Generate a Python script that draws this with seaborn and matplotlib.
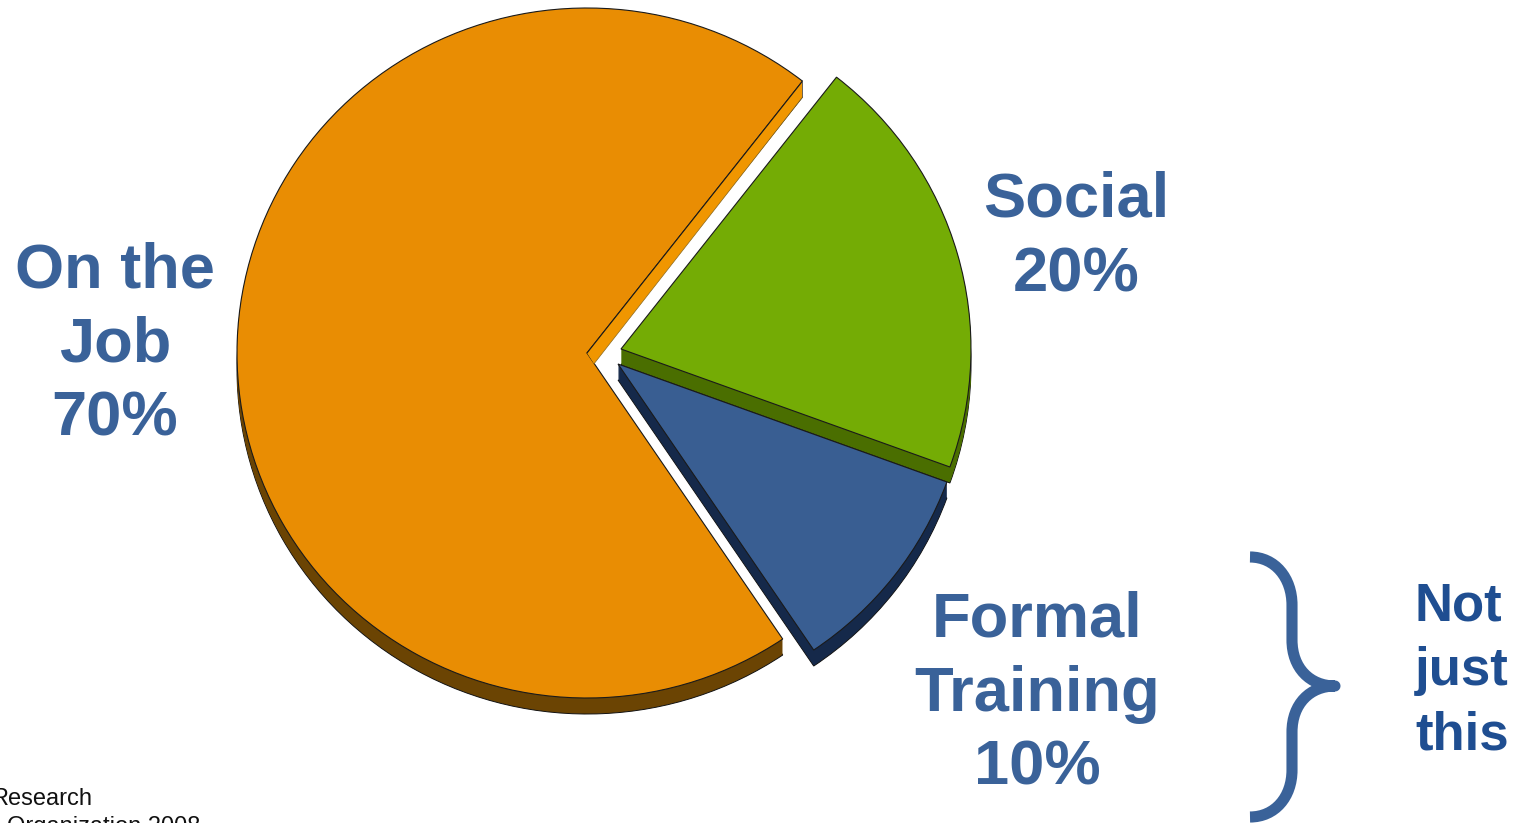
import matplotlib
matplotlib.use("Agg")
import math
import matplotlib.pyplot as plt
from matplotlib.patches import PathPatch, Polygon
from matplotlib.path import Path
import seaborn as sns

# Share of learning by source, counter-clockwise from the upper right
categories = ["On the\nJob", "Formal\nTraining", "Social"]
shares = [70, 10, 20]
top_colors = sns.color_palette(["#E98D03", "#395E92", "#74AC05"])
side_colors = sns.color_palette(["#6B4403", "#15294A", "#4A6E00"])

W, H = 1523, 823
Y_SCALE = 350 / 345  # the disc is tilted slightly, so y units are squeezed
RADIUS = 350
DEPTH = 16
START_ANGLE = 52
LABEL_BLUE = "#3A6299"
NOTE_BLUE = "#1F4E91"


def yd(py):
    """Convert a distance from the top edge into a y data value."""
    return (H - py) * Y_SCALE


# Slice apexes, each slice pulled away from the disc on its own
apexes = [(587, 353), (618, 364), (621, 349)]

sns.set_theme(style="white")
plt.rcParams["font.family"] = ["Liberation Sans", "DejaVu Sans"]

fig = plt.figure(figsize=(W / 100, H / 100), dpi=100, facecolor="white")
ax = fig.add_axes([0, 0, 1, 1])


def draw_slices(colors, drop, edgecolor, lw):
    wedges, _ = ax.pie(shares, colors=colors, startangle=START_ANGLE, radius=RADIUS,
                       wedgeprops={"edgecolor": edgecolor, "linewidth": lw})
    for wedge, (px, py) in zip(wedges, apexes):
        wedge.set_center((px, yd(py + drop)))
    return wedges


# Stack shifted copies downward to form the thickness of the disc
draw_slices(side_colors, DEPTH, "#111111", 0.7)
for drop in range(DEPTH - 1, 0, -1):
    draw_slices(side_colors, drop, "none", 0)
tops = draw_slices(top_colors, 0, "#1A1A1A", 0.8)

# The cut face of the large slice catches the light
orange = tops[0]
cx, cy = orange.center
angle = math.radians(orange.theta1)
rim = (cx + RADIUS * math.cos(angle), cy + RADIUS * math.sin(angle))
dy = DEPTH * Y_SCALE
ax.add_patch(Polygon([(cx, cy), rim, (rim[0], rim[1] - dy), (cx + 7, cy - 11)],
                     closed=True, facecolor="#F09600", edgecolor="none", zorder=1))
ax.plot([cx, rim[0]], [cy, rim[1]], color="#1A1A1A", lw=0.8, zorder=2)
ax.plot([rim[0], rim[0]], [rim[1], rim[1] - dy], color="#555555", lw=0.6, zorder=2)
ax.plot([rim[0], cx + 7], [rim[1] - dy, cy - 11], color="#8A6A20", lw=0.5, zorder=2)

ax.set_aspect("auto")
ax.set_xlim(0, W)
ax.set_ylim(0, H * Y_SCALE)
ax.axis("off")

# Slice labels
label_style = dict(family=["Liberation Sans"], weight="bold", color=LABEL_BLUE,
                   fontsize=45.5, ha="center", va="center", linespacing=1.33)
ax.text(115, yd(345), f"{categories[0]}\n{shares[0]}%", **label_style)
ax.text(1076, yd(237.5), f"{categories[2]}\n{shares[2]}%", **label_style)
ax.text(1037, yd(694), f"{categories[1]}\n{shares[1]}%", **label_style)

# Curly brace next to the side note
M, C4, L = Path.MOVETO, Path.CURVE4, Path.LINETO
brace_pts = [(1250, 557), (1275, 557), (1292, 578), (1292, 605), (1292, 640),
             (1292, 668), (1310, 686), (1335, 686), (1310, 686), (1292, 704),
             (1292, 732), (1292, 770), (1292, 797), (1275, 817), (1250, 817)]
brace_codes = [M, C4, C4, C4, L, C4, C4, C4, C4, C4, C4, L, C4, C4, C4]
ax.add_patch(PathPatch(Path([(x, yd(y)) for x, y in brace_pts], brace_codes),
                       facecolor="none", edgecolor=LABEL_BLUE, lw=8, capstyle="butt",
                       joinstyle="round", zorder=3))

ax.text(1415, yd(671), "Not\njust\nthis", family=["Liberation Sans"], weight="bold",
        color=NOTE_BLUE, fontsize=38, ha="left", va="center", linespacing=1.37)

# Source note, running off the lower left corner
ax.text(-9, yd(805), "Research", family=["Liberation Sans"], color="#111111",
        fontsize=17, ha="left", va="baseline")
ax.text(7, yd(833), "Organization 2008", family=["Liberation Sans"], color="#111111",
        fontsize=17, ha="left", va="baseline")

fig.savefig("out.png", dpi=100, facecolor="white")
